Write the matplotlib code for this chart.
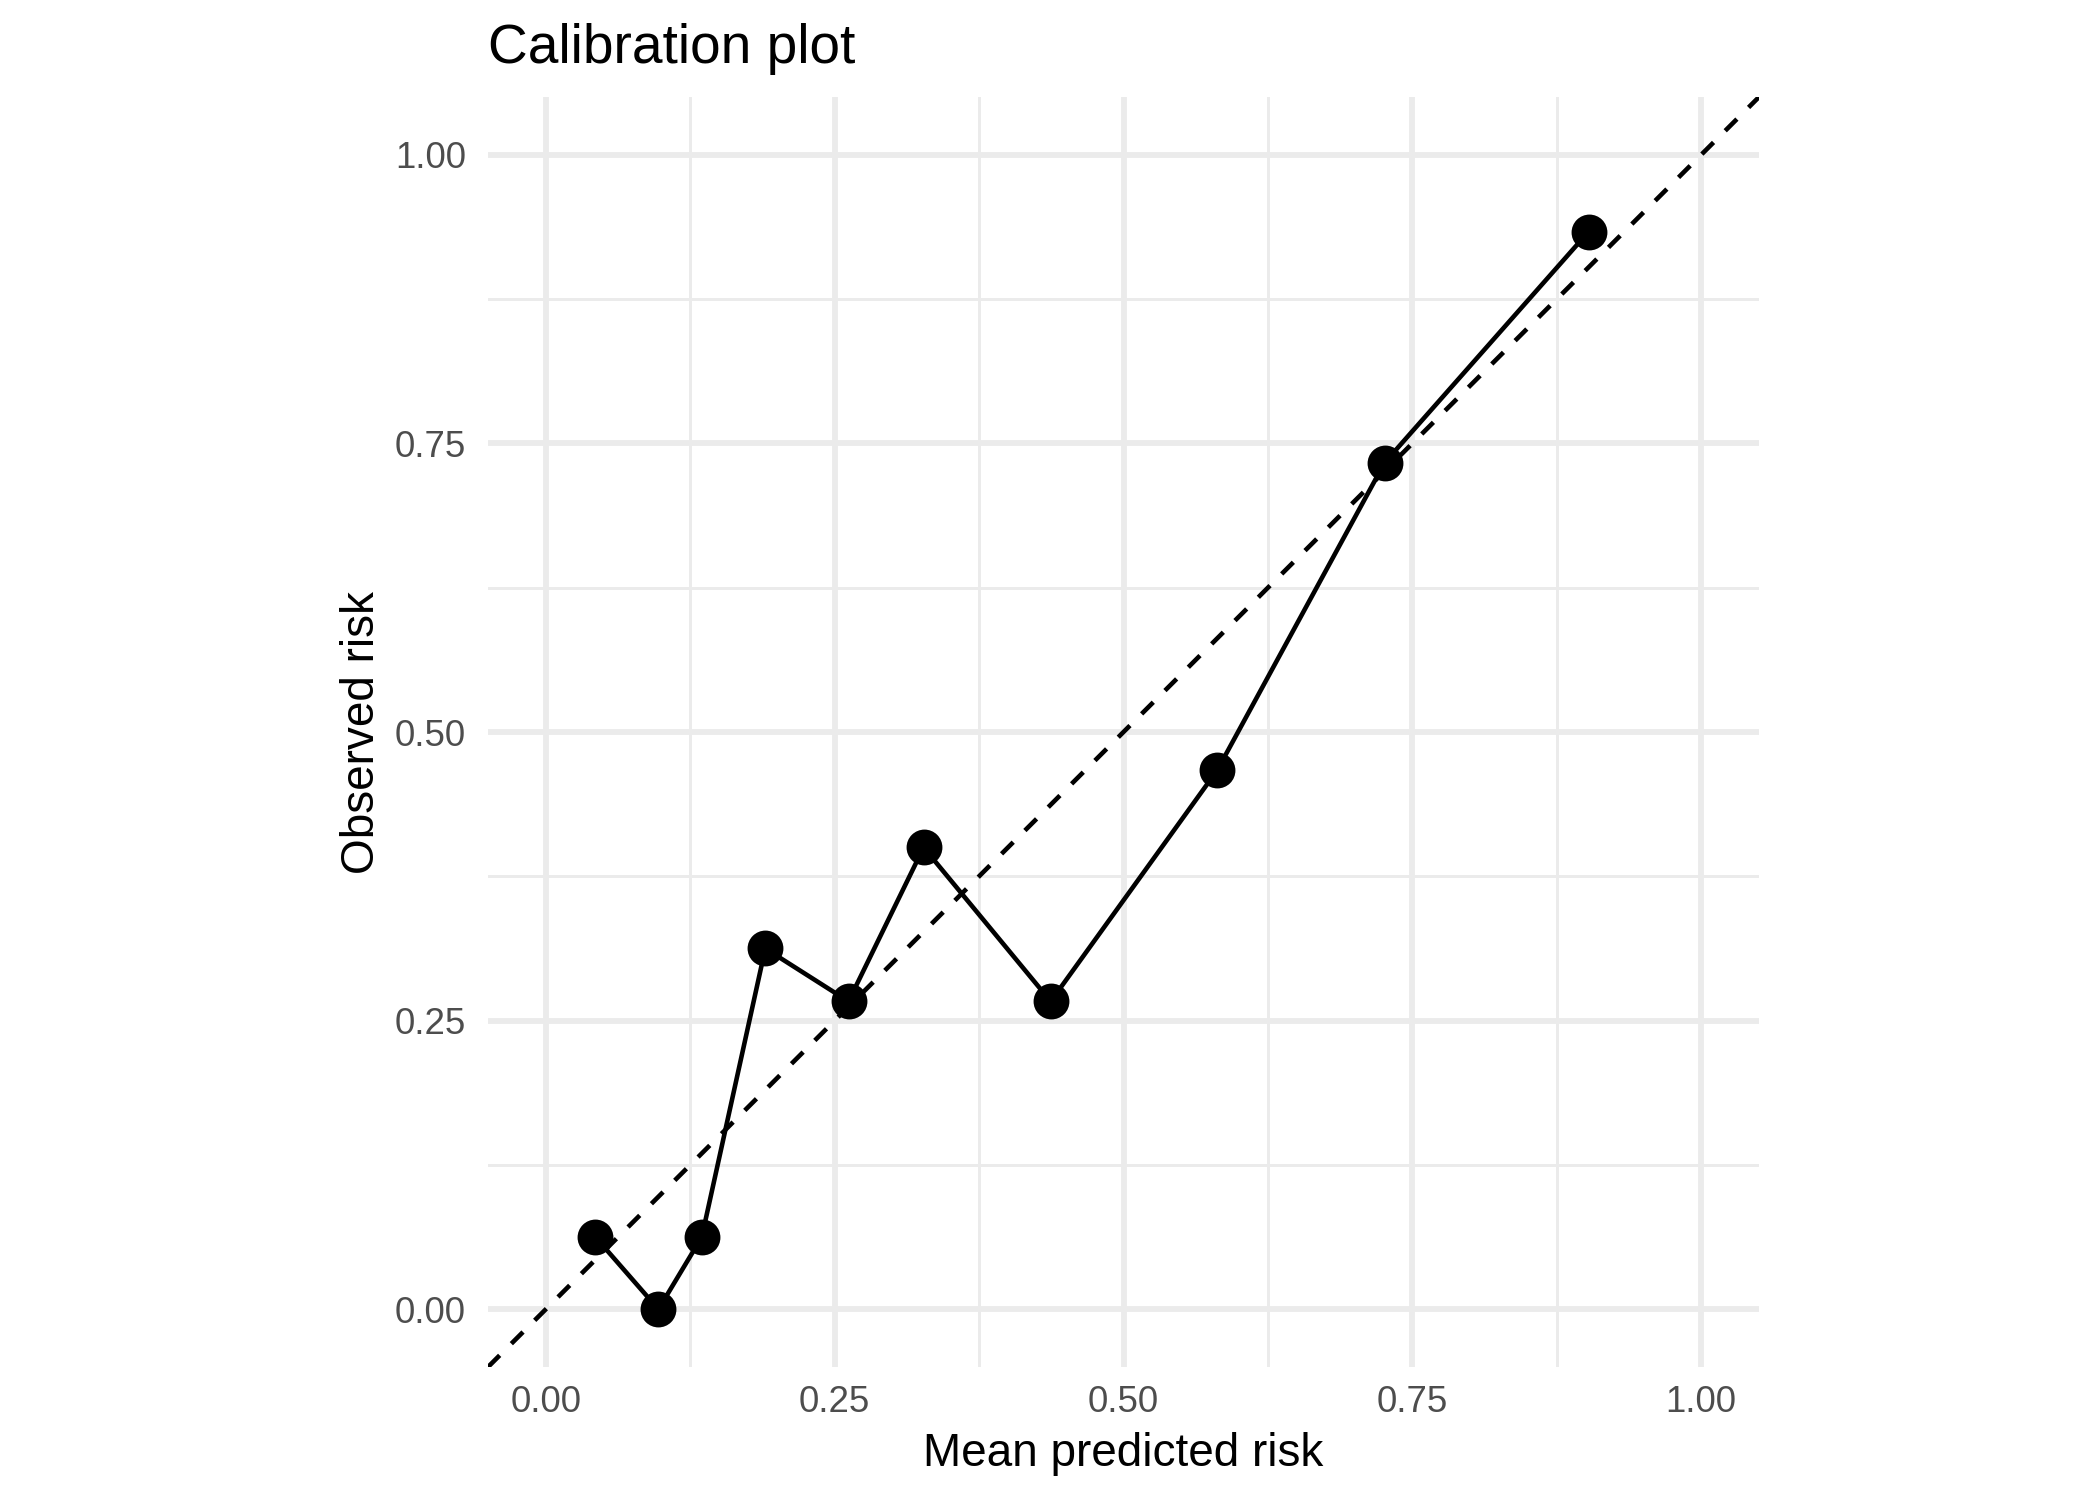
import numpy as np
import matplotlib.pyplot as plt

plt.rcParams['font.family'] = ['Liberation Sans', 'DejaVu Sans']

# mean predicted risk per bin vs observed risk
pred = [0.043, 0.0975, 0.135, 0.190, 0.262, 0.327, 0.437, 0.581, 0.726, 0.9025]
obs = [0.0625, 0.0, 0.0625, 0.3125, 0.2667, 0.400, 0.2667, 0.4667, 0.7333, 0.9333]

major = [0.0, 0.25, 0.5, 0.75, 1.0]
minor = [0.125, 0.375, 0.625, 0.875]
labels = ["0.00", "0.25", "0.50", "0.75", "1.00"]

fig = plt.figure(figsize=(7, 5), dpi=300)
ax = fig.add_axes([488 / 2100, 1 - 1367 / 1500, (1759 - 488) / 2100, (1367 - 97) / 1500])

ax.set_xlim(-0.05, 1.05)
ax.set_ylim(-0.05, 1.05)

for v in minor:
    ax.axvline(v, color='#EBEBEB', lw=0.7, zorder=0)
    ax.axhline(v, color='#EBEBEB', lw=0.7, zorder=0)
for v in major:
    ax.axvline(v, color='#EBEBEB', lw=1.4, zorder=0)
    ax.axhline(v, color='#EBEBEB', lw=1.4, zorder=0)

ax.axline((0, 0), slope=1, color='black', lw=1.1, dashes=(3.6, 3.6), zorder=2)
ax.plot(pred, obs, color='black', lw=1.1, zorder=3)
ax.plot(pred, obs, 'o', color='black', ms=7.6, zorder=4)

ax.set_xticks(major)
ax.set_xticklabels(labels)
ax.set_yticks(major)
ax.set_yticklabels(labels)
ax.tick_params(length=0, labelsize=8.8, labelcolor='#4D4D4D')
ax.tick_params(axis='x', pad=4.3)
ax.tick_params(axis='y', pad=5.3)
for s in ax.spines.values():
    s.set_visible(False)

ax.set_xlabel("Mean predicted risk", fontsize=11, labelpad=3)
ax.set_ylabel("Observed risk", fontsize=11, labelpad=2.6)
ax.set_title("Calibration plot", fontsize=13.2, loc='left', pad=8.2)

fig.savefig("out.png", dpi=300)
